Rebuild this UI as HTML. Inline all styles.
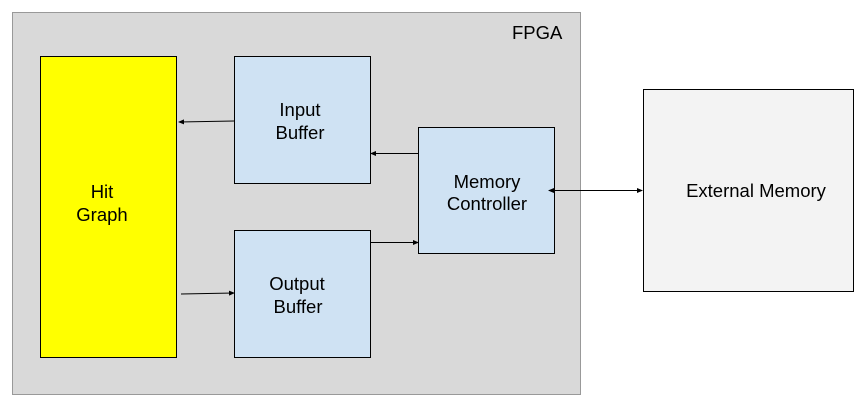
<!DOCTYPE html>
<html><head><style>
body{margin:0;width:865px;height:406px;background:#fff;overflow:hidden}
svg{display:block}
text{font-family:"Liberation Sans",sans-serif;font-size:18.5px;fill:#000}
</style></head><body>
<svg width="865" height="406" viewBox="0 0 865 406">
<defs><marker id="a" markerWidth="6" markerHeight="6" refX="5" refY="3" orient="auto" markerUnits="userSpaceOnUse"><path d="M0,0.5 L6,3 L0,5.5z" fill="#000"/></marker>
<marker id="b" markerWidth="6" markerHeight="6" refX="1" refY="3" orient="auto" markerUnits="userSpaceOnUse"><path d="M6,0.5 L0,3 L6,5.5z" fill="#000"/></marker></defs>
<rect x="12.5" y="12.5" width="568" height="382" fill="#d9d9d9" stroke="#999"/>
<text x="512" y="39">FPGA</text>
<rect x="40.5" y="56.5" width="136" height="301" fill="#ffff00" stroke="#000"/>
<text x="102" y="198" text-anchor="middle">Hit</text><text x="102" y="221" text-anchor="middle">Graph</text>
<rect x="234.5" y="56.5" width="136" height="127" fill="#cfe2f3" stroke="#000"/>
<text x="300" y="116" text-anchor="middle">Input</text><text x="300" y="139" text-anchor="middle">Buffer</text>
<rect x="234.5" y="230.5" width="136" height="127" fill="#cfe2f3" stroke="#000"/>
<text x="297" y="290" text-anchor="middle">Output</text><text x="298" y="313" text-anchor="middle">Buffer</text>
<rect x="418.5" y="127.5" width="136" height="126" fill="#cfe2f3" stroke="#000"/>
<text x="487" y="188" text-anchor="middle">Memory</text><text x="487" y="210" text-anchor="middle">Controller</text>
<rect x="643.5" y="89.5" width="210" height="202" fill="#f3f3f3" stroke="#000"/>
<text x="756" y="197" text-anchor="middle">External Memory</text>
<g stroke="#000" stroke-width="1">
<line x1="234" y1="121" x2="179" y2="122" marker-end="url(#a)"/>
<line x1="418" y1="153.5" x2="371" y2="153.5" marker-end="url(#a)"/>
<line x1="371" y1="242.5" x2="418" y2="242.5" marker-end="url(#a)"/>
<line x1="181" y1="294" x2="234" y2="293" marker-end="url(#a)"/>
<line x1="549" y1="190.5" x2="642" y2="190.5" marker-end="url(#a)" marker-start="url(#b)"/>
</g>
</svg>
</body></html>
